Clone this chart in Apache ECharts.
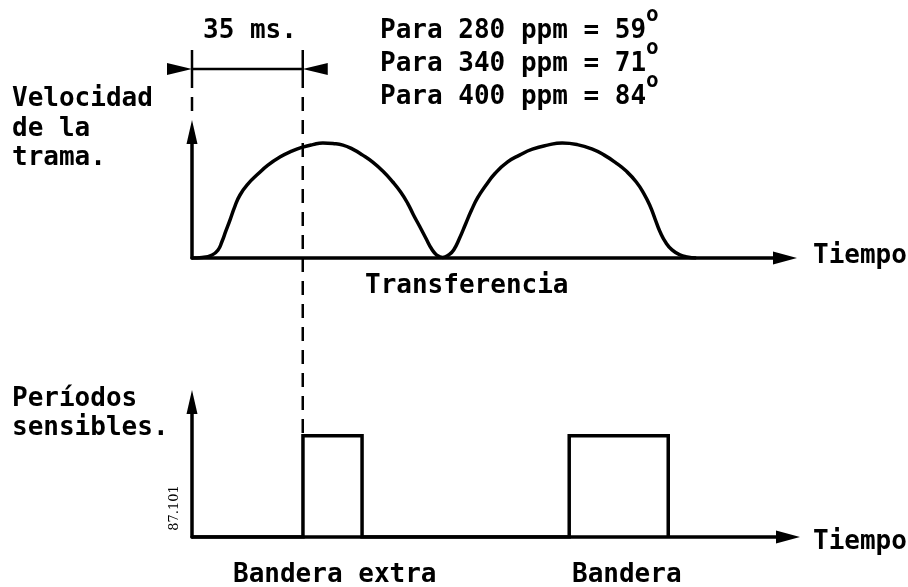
<!DOCTYPE html>
<html>
<head>
<meta charset="utf-8">
<script src="https://cdn.jsdelivr.net/npm/echarts@6/dist/echarts.min.js"></script>
<style>
html,body{margin:0;padding:0;background:#fff;}
#chart{width:908px;height:587px;}
</style>
</head>
<body>
<div id="chart"></div>
<script>
// ---- Data (time in ms) ----
// Upper plot: velocity of the weft ("Velocidad de la trama")
var timeMs = [0, 3.2, 6.4, 8.3, 9.5, 10.8, 12.1, 13.7, 15.3, 17.8, 21.0, 24.2, 28.0, 31.8, 35.3, 38.5, 41.7, 44.9,
              48.1, 51.2, 54.4, 57.6, 60.8, 64.0, 66.5, 68.7, 70.6, 72.5, 74.5, 76.4, 78.0, 79.9,
              81.8, 83.4, 85.3, 87.2, 89.1, 91.0, 93.5, 96.7, 100.5, 104.4, 108.5, 113.3, 118.0, 122.8,
              127.6, 131.4, 135.2, 138.4, 141.6, 144.1, 146.0, 147.6, 149.2, 151.1, 153.0, 155.3, 157.8, 160.7];
var velocity = [0, 0.4, 2.3, 6.2, 12.3, 20.8, 29.2, 40, 48.5, 56.9, 64.6, 71.5, 77.7, 82.3, 85.4, 87.3, 88.5, 88.1,
                86.9, 83.8, 79.2, 73.8, 66.9, 58.5, 50.8, 42.3, 33.1, 24.6, 15.4, 6.9, 2.3, 0.4,
                2.3, 6.2, 15.4, 26.2, 36.9, 46.2, 55.4, 65.4, 73.8, 79.2, 83.8, 86.9, 88.5, 87.3,
                83.8, 79.2, 73.1, 66.9, 58.5, 49.2, 40, 30, 20, 11.5, 6.2, 2.7, 0.8, 0];
// Lower plot: sensitive periods ("Períodos sensibles")
var pulseTime  = [0, 35.3, 35.3, 54.1, 54.1, 120.0, 120.0, 151.5, 151.5];
var pulseLevel = [0, 0, 75, 75, 0, 0, 75, 75, 0];
// Dimension marker
var dimStart = 0, dimEnd = 35.3;
var dimLabel = '35 ms.';
var ppmLines = ['Para 280 ppm = 59', 'Para 340 ppm = 71', 'Para 400 ppm = 84'];
var supMark = 'o';

var FONT = '"DejaVu Sans Mono", monospace';
var chart = echarts.init(document.getElementById('chart'), null, {renderer: 'canvas'});

function zip(a, b) { return a.map(function (v, i) { return [v, b[i]]; }); }

var axisLineCommon = function (sz) {
  return {show: true, symbol: ['none', 'triangle'], symbolSize: sz,
          lineStyle: {color: '#000', width: 3.5}};
};
function xAx(idx, max) {
  return {type: 'value', gridIndex: idx, min: 0, max: max,
    axisLine: axisLineCommon([13, 24]), axisTick: {show: false}, axisLabel: {show: false},
    splitLine: {show: false}};
}
function yAx(idx, max) {
  return {type: 'value', gridIndex: idx, min: 0, max: max,
    axisLine: axisLineCommon([11, 24]), axisTick: {show: false}, axisLabel: {show: false},
    splitLine: {show: false}};
}

function txt(s, x, y, size, extra) {
  var o = {type: 'text', x: x, y: y, silent: true,
    style: {text: s, font: 'bold ' + (size || 26) + 'px ' + FONT, fill: '#000',
            textVerticalAlign: 'middle', verticalAlign: 'middle'}};
  if (extra) for (var k in extra) o[k] = extra[k];
  return o;
}

var texts = [
  txt(dimLabel, 203, 31),
  txt(ppmLines[0], 380, 31), txt(supMark, 646, 16, 21),
  txt(ppmLines[1], 380, 64), txt(supMark, 646, 49, 21),
  txt(ppmLines[2], 380, 97), txt(supMark, 646, 82, 21),
  txt('Velocidad', 12, 99), txt('de la', 12, 129), txt('trama.', 12, 158),
  txt('Transferencia', 365, 286),
  txt('Tiempo', 813, 256),
  txt('Períodos', 12, 399), txt('sensibles.', 12, 428),
  txt('Tiempo', 813, 542),
  txt('Bandera extra', 233, 575), txt('Bandera', 572, 575),
  {type: 'text', x: 175, y: 508, rotation: Math.PI / 2, silent: true,
   style: {text: '87.101', font: '13px "DejaVu Serif", serif', fill: '#000',
           align: 'center', textAlign: 'center', verticalAlign: 'middle', textVerticalAlign: 'middle'}}
];

chart.setOption({
  animation: false,
  backgroundColor: '#fff',
  grid: [
    {left: 192, top: 132, width: 593, height: 126},
    {left: 192, top: 402, width: 596, height: 135}
  ],
  xAxis: [xAx(0, 189), xAx(1, 189.6)],
  yAxis: [yAx(0, 97), yAx(1, 100)],
  series: [
    {type: 'line', xAxisIndex: 0, yAxisIndex: 0, data: zip(timeMs, velocity),
     smooth: 0.5, symbol: 'none', lineStyle: {color: '#000', width: 3.5, join: 'round'}},
    {type: 'line', xAxisIndex: 1, yAxisIndex: 1, data: zip(pulseTime, pulseLevel),
     symbol: 'none', lineStyle: {color: '#000', width: 3.5, join: 'miter'}}
  ],
  graphic: texts
});

// Annotation lines positioned through the axes
var xa = chart.convertToPixel({xAxisIndex: 0}, dimStart);
var xb = chart.convertToPixel({xAxisIndex: 0}, dimEnd);
var pulseTopY = chart.convertToPixel({yAxisIndex: 1}, pulseLevel[2]);
var dimY = 69;
var dashStyle = {stroke: '#000', lineWidth: 2.5, lineDash: [14, 9]};
var solid = {stroke: '#000', lineWidth: 2.5};
var extra = [
  {type: 'line', shape: {x1: xa, y1: dimY, x2: xb, y2: dimY}, style: solid, silent: true},
  {type: 'line', shape: {x1: xa, y1: 50, x2: xa, y2: 88}, style: solid, silent: true},
  {type: 'line', shape: {x1: xb, y1: 50, x2: xb, y2: 88}, style: solid, silent: true},
  {type: 'line', shape: {x1: xa, y1: 97, x2: xa, y2: 114}, style: dashStyle, silent: true},
  {type: 'line', shape: {x1: xb, y1: 97, x2: xb, y2: pulseTopY}, style: dashStyle, silent: true},
  {type: 'polygon', shape: {points: [[xa - 25, dimY - 6], [xa, dimY], [xa - 25, dimY + 6]]}, style: {fill: '#000'}, silent: true},
  {type: 'polygon', shape: {points: [[xb + 25, dimY - 6], [xb, dimY], [xb + 25, dimY + 6]]}, style: {fill: '#000'}, silent: true}
];
chart.setOption({graphic: texts.concat(extra)});
</script>
</body>
</html>
